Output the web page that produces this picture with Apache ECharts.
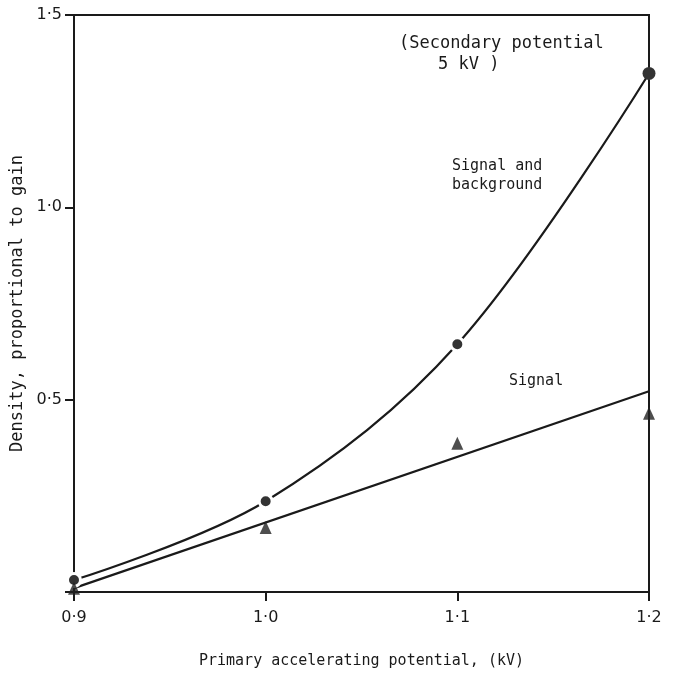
<!DOCTYPE html>
<html>
<head>
<meta charset="utf-8">
<script src="https://cdn.jsdelivr.net/npm/echarts@6/dist/echarts.min.js"></script>
<style>
  html, body { margin: 0; padding: 0; background: #fff; }
  #chart { width: 674px; height: 674px; }
</style>
</head>
<body>
<div id="chart"></div>
<script>
// Primary accelerating potential (kV)
const potentials = [0.9, 1.0, 1.1, 1.2];
// Measured density, signal and background (circles)
const totalDensity = [0.031, 0.236, 0.644, 1.348];
// Measured density, signal only (triangles)
const signalDensity = [0.01, 0.168, 0.387, 0.465];
// Straight-line fit drawn through the signal points (end points)
const signalFitX = [0.9, 1.2];
const signalFitY = [0.01, 0.522];
// Axis tick values
const xTicks = [0.9, 1.0, 1.1, 1.2];
const yTicks = [0, 0.5, 1.0, 1.5];

const ink = '#1a1a1a';
const tickFont = 'DejaVu Sans';
const letterFont = 'DejaVu Sans Mono';
const dotFmt = v => v === 0 ? '' : v.toFixed(1).replace('.', '·');

const chart = echarts.init(document.getElementById('chart'), null, { renderer: 'canvas' });

chart.setOption({
  animation: false,
  backgroundColor: '#fff',
  grid: {
    left: 74, right: 25, top: 15, bottom: 82,
    show: true, borderColor: ink, borderWidth: 2, backgroundColor: 'transparent'
  },
  xAxis: {
    type: 'value',
    min: xTicks[0], max: xTicks[xTicks.length - 1], interval: 0.1,
    axisLine: { show: true, lineStyle: { color: ink, width: 2 } },
    axisTick: { show: true, length: 9, lineStyle: { color: ink, width: 2 } },
    splitLine: { show: false },
    axisLabel: { formatter: v => v.toFixed(1).replace('.', '·'), color: ink, fontSize: 16, fontFamily: tickFont, margin: 18 },
    name: 'Primary accelerating potential, (kV)',
    nameLocation: 'middle', nameGap: 62,
    nameTextStyle: { color: ink, fontSize: 15, fontFamily: letterFont }
  },
  yAxis: {
    type: 'value',
    min: yTicks[0], max: yTicks[yTicks.length - 1], interval: 0.5,
    axisLine: { show: true, lineStyle: { color: ink, width: 2 } },
    axisTick: { show: true, length: 9, lineStyle: { color: ink, width: 2 } },
    splitLine: { show: false },
    axisLabel: { formatter: dotFmt, color: ink, fontSize: 16, fontFamily: tickFont, margin: 12 },
    name: 'Density, proportional to gain',
    nameLocation: 'middle', nameGap: 46, nameRotate: 90,
    nameTextStyle: { color: ink, fontSize: 17, fontFamily: letterFont }
  },
  series: [
    {
      name: 'Signal and background',
      type: 'line',
      smooth: 0.35,
      data: potentials.map((x, i) => ({
        value: [x, totalDensity[i]],
        itemStyle: i === potentials.length - 1 ? { borderWidth: 0 } : undefined
      })),
      symbol: 'circle',
      symbolSize: 13,
      lineStyle: { color: ink, width: 2.2 },
      itemStyle: { color: '#333', borderColor: '#fff', borderWidth: 3 },
      z: 3
    },
    {
      name: 'Signal fit',
      type: 'line',
      data: signalFitX.map((x, i) => [x, signalFitY[i]]),
      showSymbol: false,
      symbol: 'none',
      lineStyle: { color: ink, width: 2.2 },
      z: 2
    },
    {
      name: 'Signal',
      type: 'scatter',
      data: potentials.map((x, i) => [x, signalDensity[i]]),
      symbol: 'triangle',
      symbolSize: [12, 13],
      itemStyle: { color: '#222' },
      z: 4
    }
  ],
  graphic: [
    { type: 'text', left: 399, top: 35, style: { text: '(Secondary potential', fill: ink, font: '17px ' + letterFont } },
    { type: 'text', left: 438, top: 56, style: { text: '5 kV )', fill: ink, font: '17px ' + letterFont } },
    { type: 'text', left: 452, top: 159, style: { text: 'Signal and', fill: ink, font: '15px ' + letterFont } },
    { type: 'text', left: 452, top: 178, style: { text: 'background', fill: ink, font: '15px ' + letterFont } },
    { type: 'text', left: 509, top: 374, style: { text: 'Signal', fill: ink, font: '15px ' + letterFont } }
  ]
});
</script>
</body>
</html>
